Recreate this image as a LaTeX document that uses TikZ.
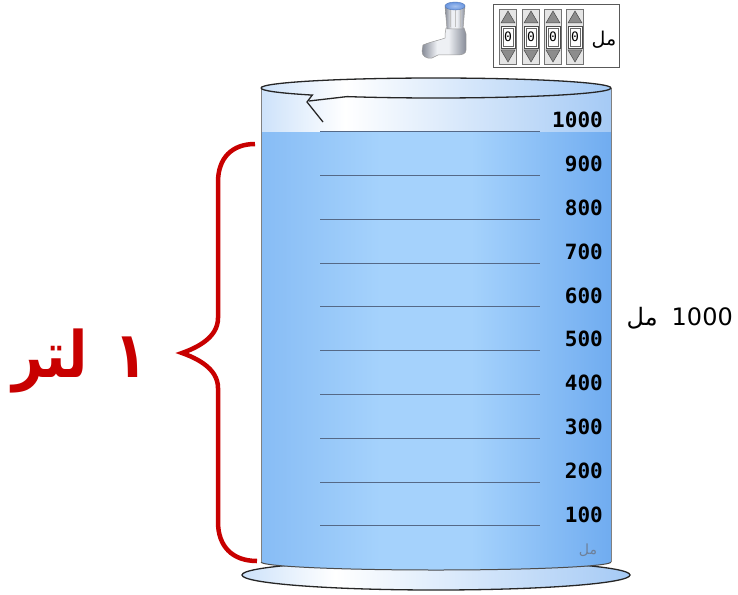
\documentclass[tikz,border=0pt]{standalone}
\usepackage{fontspec}
\setmainfont{DejaVu Sans}
\newfontfamily\arabicfont[Script=Arabic]{DejaVu Sans}
\newfontfamily\gradfont{DejaVu Sans Mono}
\TeXXeTstate=1
\definecolor{litred}{RGB}{200,0,0}
\definecolor{waterleft}{RGB}{135,188,245}
\definecolor{watermid}{RGB}{165,210,252}
\definecolor{waterright}{RGB}{112,172,240}
\definecolor{glassleft}{RGB}{205,226,250}
\definecolor{glassright}{RGB}{165,202,245}
\definecolor{markgray}{RGB}{85,105,135}
\definecolor{capblue}{RGB}{105,150,225}
\definecolor{chromedark}{RGB}{135,140,152}
\definecolor{chromelight}{RGB}{238,240,244}
\pgfdeclarehorizontalshading{watershade}{100bp}{color(0bp)=(waterleft); color(25bp)=(waterleft); color(42bp)=(watermid); color(55bp)=(watermid); color(75bp)=(waterright); color(100bp)=(waterright)}
\pgfdeclarehorizontalshading{glassshade}{100bp}{color(0bp)=(glassleft); color(25bp)=(glassleft); color(37bp)=(white); color(75bp)=(glassright); color(100bp)=(glassright)}
\pgfdeclarehorizontalshading{chrome}{100bp}{color(0bp)=(chromedark); color(25bp)=(chromedark); color(42bp)=(chromelight); color(55bp)=(chromelight); color(75bp)=(chromedark); color(100bp)=(chromedark)}

\begin{document}
\begin{tikzpicture}[x=1pt,y=1pt,
  rim/.style={black!85, line width=1.3pt},
  wall/.style={gray, line width=1pt},
  gradline/.style={markgray, line width=1.1pt},
  gradlabel/.style={anchor=east, inner sep=0pt, font=\gradfont\bfseries\fontsize{21}{21}\selectfont},
  column/.style={fill=black!10, draw=black!55, line width=0.6pt},
  arrowbtn/.style={fill=black!45, draw=black!70, line width=0.5pt},
  digitbox/.style={fill=white, draw=black!70, line width=0.7pt}]
\useasboundingbox (0,0) rectangle (738,-594);

% base plate
\shadedraw[shading=glassshade, draw=black!85, line width=1.3pt] (436,-575) ellipse [x radius=194, y radius=15];

% glass above the water and the water itself
\shade[shading=glassshade] (261,-132) -- (261,-88) arc[start angle=180, end angle=0, x radius=175, y radius=10] -- (611,-132) -- cycle;
\shade[shading=watershade] (261,-132) -- (611,-132) -- (611,-562) arc[start angle=0, end angle=-180, x radius=175, y radius=8] -- cycle;
\draw[black!70, line width=1pt] (261,-562) arc[start angle=180, end angle=360, x radius=175, y radius=8];
\draw[wall] (261,-88) -- (261,-562);
\draw[wall] (611,-88) -- (611,-562);

% rim with the pouring lip
\draw[rim] (261,-88) arc[start angle=180, end angle=0, x radius=175, y radius=10];
\draw[rim] (261,-88) arc[start angle=180, end angle=225, x radius=175, y radius=10] -- (307,-102) -- (323,-122);
\draw[rim] (309,-101) -- (347,-96.6) arc[start angle=239.4, end angle=360, x radius=175, y radius=10];

% scale marks
\foreach \i in {1,...,10}{
  \pgfmathsetmacro{\yy}{-131.7-43.8*(10-\i)}
  \draw[gradline] (320,\yy) -- (540,\yy);
  \node[gradlabel] (mark\i) at (603,\yy+11.5) {\i00};
}
\node[text=markgray!85, font=\arabicfont\fontsize{14}{14}\selectfont, inner sep=0pt] (unit) at (588,-550) {\beginR مل\endR};

% volume on the right
\node[anchor=east, inner sep=0pt, font=\fontsize{24}{24}\selectfont] (volume) at (733,-318) {{\arabicfont\beginR مل\endR}\hspace{14pt}1000};

% brace and the big label
\draw[litred, line width=4.5pt] (255,-144) .. controls (232,-144) and (218,-158) .. (218,-182) -- (218,-318)
  .. controls (218,-338) and (196,-348) .. (182,-353)
  .. controls (196,-358) and (218,-368) .. (218,-388) -- (218,-522)
  .. controls (218,-546) and (232,-561) .. (257,-561);
\node[text=litred, anchor=base east, inner sep=0pt, font=\arabicfont\bfseries\fontsize{64}{64}\selectfont] (litre) at (148,-377) {\scalebox{0.84}[1]{\beginR ١\hspace{32pt}لتر\endR}};

% tap
\shade[shading=chrome, draw=black!40, line width=0.5pt] (446,-28) -- (464,-28) -- (466,-34) -- (466,-50)
  .. controls (466,-54) and (462,-55) .. (456,-55) -- (438,-55) -- (432,-58)
  .. controls (426,-59) and (422,-56) .. (422,-51) -- (423,-45)
  .. controls (430,-42) and (440,-40) .. (445,-38) -- (445,-34) -- cycle;
\shade[shading=chrome, draw=black!40, line width=0.5pt] (445,-6) -- (465,-6) -- (463,-29) -- (447,-29) -- cycle;
\foreach \rx in {450,455,460}
  \draw[black!25, line width=0.6pt] (\rx,-9) -- (\rx,-27);
\shade[inner color=capblue!60, outer color=capblue, draw=capblue!80!black, line width=0.4pt] (455,-6) ellipse [x radius=10, y radius=4];

% counter
\draw[black!65, fill=white, line width=1pt] (493,-5) rectangle (619,-67);
\foreach \cx [count=\j] in {508,531,553,575}{
  \draw[column] (\cx-8.5,-9) rectangle (\cx+8.5,-64);
  \draw[arrowbtn] (\cx,-11) -- (\cx+7,-23) -- (\cx-7,-23) -- cycle;
  \draw[digitbox] (\cx-7,-26) rectangle (\cx+7,-48);
  \draw[black!60, line width=0.5pt] (\cx-5,-28) rectangle (\cx+5,-46);
  \node[font=\gradfont\fontsize{13}{13}\selectfont, inner sep=0pt] (digit\j) at (\cx,-37) {0};
  \draw[arrowbtn] (\cx,-62) -- (\cx+7,-50) -- (\cx-7,-50) -- cycle;
}
\node[font=\arabicfont\fontsize{19}{19}\selectfont, inner sep=0pt] (counterunit) at (604,-40) {\beginR مل\endR};
\end{tikzpicture}
\end{document}
